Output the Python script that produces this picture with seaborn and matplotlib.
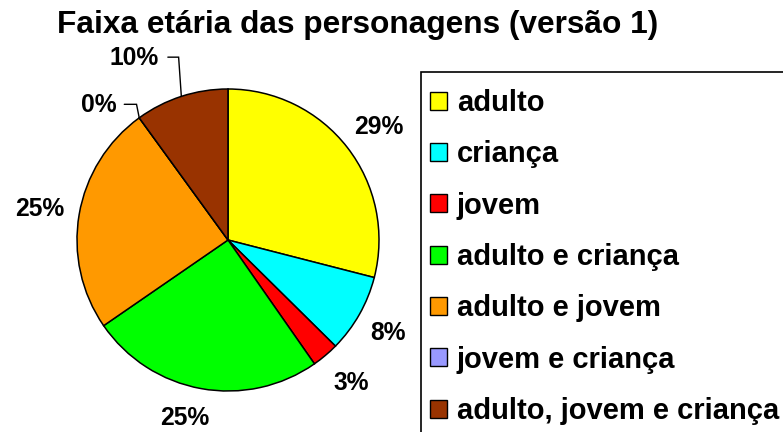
import numpy as np
import matplotlib
matplotlib.use("Agg")
import matplotlib.pyplot as plt
import seaborn as sns
from matplotlib.patches import Patch, Rectangle

# ---- data ----
categories = ["adulto", "criança", "jovem", "adulto e criança",
              "adulto e jovem", "jovem e criança", "adulto, jovem e criança"]
values = [29.0, 8.4, 2.9, 25.1, 24.6, 0.0, 10.0]
colors = ["#FFFF00", "#00FFFF", "#FF0000", "#00FF00",
          "#FF9900", "#9999FF", "#993300"]
title = "Faixa etária das personagens (versão 1)"

sns.set_theme(style="white")
plt.rcParams["font.family"] = ["Liberation Sans", "DejaVu Sans"]
plt.rcParams["font.weight"] = "bold"
plt.rcParams["text.color"] = "black"

W, H = 783, 432
fig = plt.figure(figsize=(W / 100, H / 100), dpi=100)
fig.patch.set_facecolor("white")

cx, cy, R = 228, 240, 151
ax = fig.add_axes([(cx - R) / W, (H - cy - R) / H, 2 * R / W, 2 * R / H])
ax.set_facecolor("white")

wedges, _ = ax.pie(values, colors=colors, startangle=90, counterclock=False,
                   radius=1.0, normalize=True,
                   wedgeprops=dict(edgecolor="black", linewidth=1.1))
ax.set_xlim(-1.0, 1.0)
ax.set_ylim(-1.0, 1.0)
ax.set_aspect("equal")
ax.axis("off")

# label placement (style only)
label_dist = [1.25, 1.225, 1.25, 1.215, 1.265, 1.236, 1.357]
label_rot = [-1.0, -0.8, 0.7, -3.5, 0.4, 7.7, 9.3]
leader = [False, False, False, False, False, True, True]

total = sum(values)
for w, v, d, r, ld in zip(wedges, values, label_dist, label_rot, leader):
    mid = 0.5 * (w.theta1 + w.theta2)
    ang = np.deg2rad(mid + r)
    tx, ty = d * np.cos(ang), d * np.sin(ang)
    txt = f"{round(100 * v / total):.0f}%"
    ax.text(tx, ty, txt, ha="center", va="center", fontsize=17.7,
            fontweight="bold", color="black", clip_on=False)
    if ld:
        ex, ey = np.cos(np.deg2rad(mid)), np.sin(np.deg2rad(mid))
        half = 0.057 * len(txt)
        x0 = tx + half + 0.053
        ax.plot([x0, ex - 0.018, ex], [ty + 0.005, ty + 0.005, ey],
                color="black", linewidth=1.0, clip_on=False,
                solid_joinstyle="miter")

fig.text(358 / W, 1 - 25 / H, title, ha="center", va="center",
         fontsize=22.8, fontweight="bold", color="black")

# legend frame (extends past the figure edge as in the reference)
fig.patches.append(Rectangle((421 / W, -20 / H), 400 / W, (H - 72 + 20) / H,
                             transform=fig.transFigure, facecolor="white",
                             edgecolor="black", linewidth=1.2, zorder=0,
                             clip_on=False))

handles = [Patch(facecolor=c, edgecolor="black", linewidth=1.0) for c in colors]
leg = fig.legend(handles, categories, loc="upper left",
                 bbox_to_anchor=(421 / W, 1 - 80 / H),
                 bbox_transform=fig.transFigure,
                 frameon=False,
                 prop=dict(family="Liberation Sans", weight="bold", size=21),
                 handlelength=0.58, handleheight=0.58, handletextpad=0.34,
                 labelspacing=0.80, borderpad=0.31, borderaxespad=0.0)
for t in leg.get_texts():
    t.set_color("black")

fig.savefig("out.png", dpi=100, facecolor="white")
